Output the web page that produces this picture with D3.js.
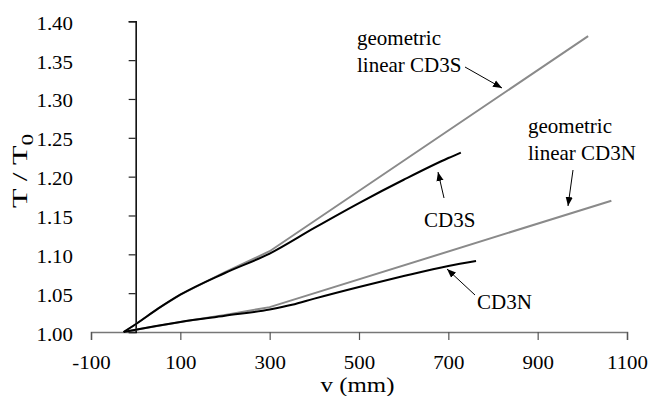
<!DOCTYPE html>
<html><head><meta charset="utf-8">
<script src="https://cdn.jsdelivr.net/npm/d3@7"></script>
<style>body{margin:0;background:#fff}svg{display:block}</style>
</head><body><svg id="c" width="651" height="396"></svg>
<script>
const xTicks=[-100,100,300,500,700,900,1100];
const yTicks=[1.00,1.05,1.10,1.15,1.20,1.25,1.30,1.35,1.40];
const cd3sV=[-27,0,50,100,200,300,400,500,600,700,728];
const cd3sT=[1.000,1.010,1.030,1.048,1.076,1.101,1.134,1.166,1.196,1.224,1.231];
const geoSV=[-27,0,50,100,200,300,1013];
const geoST=[1.000,1.010,1.030,1.048,1.077,1.104,1.381];
const cd3nV=[-27,0,100,200,300,350,400,500,600,700,762];
const cd3nT=[1.000,1.003,1.013,1.021,1.029,1.035,1.043,1.058,1.072,1.085,1.0915];
const geoNV=[-27,0,100,200,300,1065];
const geoNT=[1.000,1.003,1.013,1.022,1.032,1.169];

const FF="'Liberation Serif','Times New Roman',Times,serif";
const TS=19, SX=1.1;
const svg=d3.select("#c");
const x=d3.scaleLinear().domain([-100,1100]).range([91,627]);
const y=d3.scaleLinear().domain([1.0,1.4]).range([332,21.3]);

svg.append("defs").append("marker").attr("id","ah").attr("viewBox","0 0 10 10")
 .attr("refX",10).attr("refY",5).attr("markerWidth",9).attr("markerHeight",9)
 .attr("markerUnits","userSpaceOnUse").attr("orient","auto")
 .append("path").attr("d","M0,1 L10,5 L0,9 Z").attr("fill","#000");

// x axis
const xa=svg.append("g").attr("transform",`translate(0,${y(1.0)})`)
 .call(d3.axisBottom(x).tickValues(xTicks).tickSize(8).tickFormat(d=>String(d)));
xa.attr("font-family",null).attr("font-size",null);
xa.select(".domain").attr("stroke","#777").attr("stroke-width",1.5);
xa.selectAll(".tick line").attr("stroke","#555").attr("stroke-width",1.2);
xa.selectAll("text").style("font-family",FF).style("font-size",TS+"px").attr("fill","#000")
 .attr("text-anchor","middle").attr("x",0).attr("y",37.5).attr("dy",0).attr("transform",`scale(${SX},1)`);

// y axis
const ya=svg.append("g").attr("transform",`translate(${x(0)},0)`)
 .call(d3.axisLeft(y).tickValues(yTicks).tickSize(7).tickFormat(d3.format(".2f")));
ya.attr("font-family",null).attr("font-size",null);
ya.select(".domain").attr("stroke","#000").attr("stroke-width",1.5);
ya.selectAll(".tick line").attr("stroke","#222").attr("stroke-width",1.2);
ya.selectAll("text").style("font-family",FF).style("font-size",TS+"px").attr("fill","#000")
 .attr("text-anchor","end").attr("x",(73-x(0))/SX).attr("y",8).attr("dy",0).attr("transform",`scale(${SX},1)`);

const lineL=d3.line().x(d=>x(d[0])).y(d=>y(d[1]));
const lineC=d3.line().x(d=>x(d[0])).y(d=>y(d[1])).curve(d3.curveMonotoneX);
function draw(v,t,col,gen){
 svg.append("path").datum(v.map((d,i)=>[d,t[i]])).attr("d",gen)
  .attr("fill","none").attr("stroke",col).attr("stroke-width",2);
}
draw(geoSV,geoST,"#8a8a8a",lineL);
draw(geoNV,geoNT,"#8a8a8a",lineL);
draw(cd3sV,cd3sT,"#000",lineC);
draw(cd3nV,cd3nT,"#000",lineC);

function txt(sel,size){return (sel||svg).append("text").style("font-family",FF).style("font-size",size+"px").attr("fill","#000");}
// axis titles
txt(svg.append("g").attr("transform","translate(357.5,391.5) scale(1.13,1)"),22)
 .attr("text-anchor","middle").text("v (mm)");
const yt=txt(svg.append("g").attr("transform","translate(27,171) rotate(-90) scale(1.45,1)"),22).attr("text-anchor","middle");
yt.append("tspan").text("T / T");
yt.append("tspan").style("font-size","16px").attr("dy",6).text("0");

function label(lines,lx,ly,lh){
 const t=txt(svg,21);
 lines.forEach((s,i)=>t.append("tspan").attr("x",lx).attr("y",ly+i*lh).text(s));
}
function arrow(x1,y1,x2,y2){
 svg.append("line").attr("x1",x1).attr("y1",y1).attr("x2",x2).attr("y2",y2)
  .attr("stroke","#000").attr("stroke-width",1).attr("marker-end","url(#ah)");
}
label(["geometric","linear CD3S"],357,45,26.7);
arrow(465,67,502,88);
label(["geometric","linear CD3N"],528,133.3,26.7);
arrow(573,170,568,206);
label(["CD3S"],424,227.3,0);
arrow(444,198,438,172);
label(["CD3N"],477,309.3,0);
arrow(475,295,447,269);
</script></body></html>
